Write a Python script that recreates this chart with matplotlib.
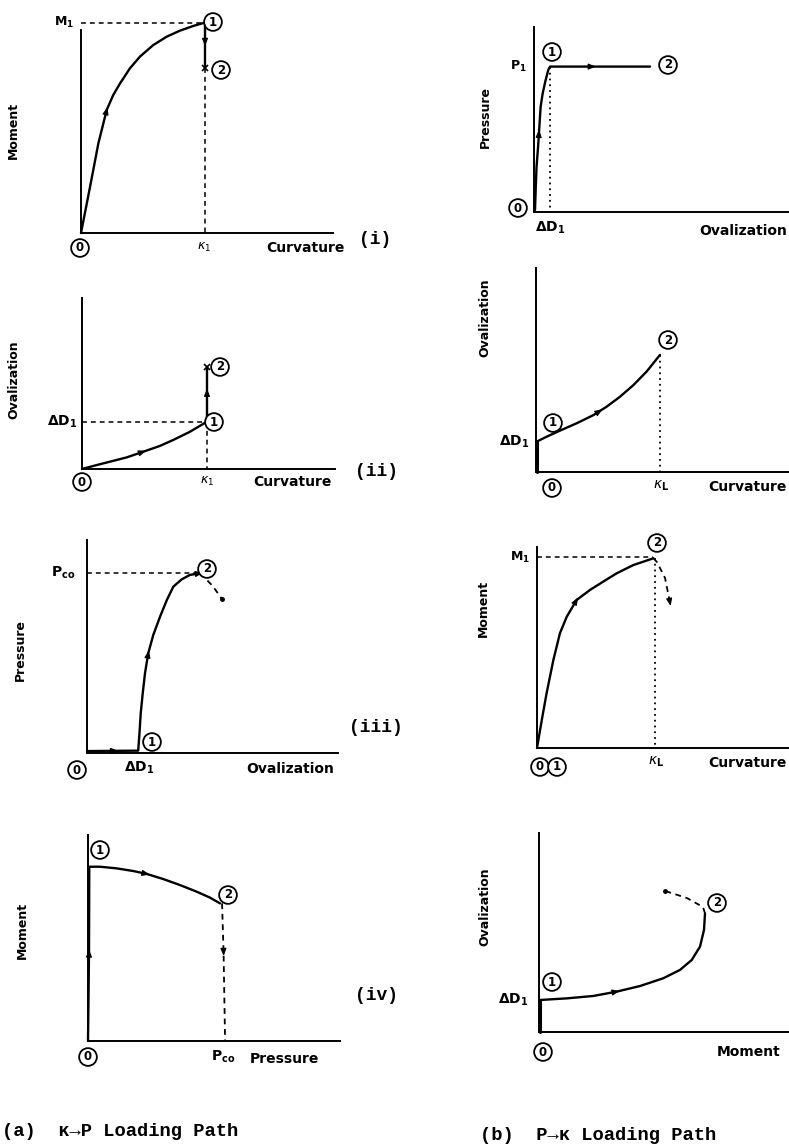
import numpy as np
import matplotlib
matplotlib.use("Agg")
import matplotlib.pyplot as plt

plt.rcParams['font.family'] = ['DejaVu Sans']
plt.rcParams['mathtext.fontset'] = 'dejavusans'

W, H = 789, 1146
fig = plt.figure(figsize=(W / 100, H / 100), dpi=100)

# ---------------- data (normalised to each panel's axis lengths) ----------------
# (a)(i) moment vs curvature
ai_curv = [0.0, 0.036, 0.069, 0.102, 0.128, 0.155, 0.194, 0.234, 0.287, 0.340, 0.393, 0.446, 0.490]
ai_mom = [0.0, 0.228, 0.442, 0.606, 0.680, 0.737, 0.811, 0.869, 0.926, 0.967, 0.997, 1.020, 1.036]
ai_drop_mom = [1.036, 0.813]          # moment relaxation 1 -> 2 at constant curvature
ai_k1 = 0.492

# (a)(ii) ovalization vs curvature
aii_curv = [0.0, 0.058, 0.111, 0.177, 0.242, 0.308, 0.361, 0.427, 0.494]
aii_oval = [0.0, 0.023, 0.043, 0.068, 0.101, 0.135, 0.170, 0.218, 0.277]
aii_rise_oval = [0.277, 0.596]
aii_k1 = 0.494

# (a)(iii) pressure vs ovalization
aiii_oval = [0.0, 0.204, 0.209, 0.214, 0.222, 0.231, 0.244, 0.264, 0.291, 0.318, 0.344, 0.377, 0.410, 0.450]
aiii_pres = [0.009, 0.011, 0.092, 0.186, 0.280, 0.374, 0.468, 0.554, 0.640, 0.718, 0.781, 0.815, 0.836, 0.844]
aiii_post_oval = [0.450, 0.466, 0.50, 0.538]
aiii_post_pres = [0.844, 0.826, 0.785, 0.723]
aiii_pco = 0.845

# (a)(iv) moment vs pressure
aiv_pres = [0.0, 0.004, 0.005, 0.048, 0.114, 0.180, 0.233, 0.299, 0.365, 0.431, 0.484, 0.524]
aiv_mom = [0.0, 0.43, 0.846, 0.846, 0.838, 0.825, 0.811, 0.786, 0.757, 0.725, 0.696, 0.668]
aiv_post_pres = [0.532, 0.538, 0.544]
aiv_post_mom = [0.668, 0.427, 0.0]

# (b)(i) pressure vs ovalization
bi_oval = [0.004, 0.007, 0.010, 0.016, 0.021, 0.026, 0.034, 0.044, 0.056, 0.063, 0.231, 0.455]
bi_pres = [0.011, 0.137, 0.245, 0.353, 0.461, 0.569, 0.641, 0.704, 0.768, 0.786, 0.786, 0.786]
bi_d1 = 0.063

# (b)(ii) ovalization vs curvature
bii_pre_oval = [0.0, 0.07, 0.149]
bii_curv = [0.003, 0.042, 0.095, 0.161, 0.227, 0.279, 0.332, 0.385, 0.437, 0.490]
bii_oval = [0.149, 0.173, 0.203, 0.239, 0.279, 0.320, 0.369, 0.426, 0.492, 0.574]
bii_kL = 0.490

# (b)(iii) moment vs curvature
biii_curv = [0.0, 0.019, 0.038, 0.065, 0.091, 0.118, 0.157, 0.210, 0.263, 0.316, 0.382, 0.462]
biii_mom = [0.0, 0.139, 0.272, 0.438, 0.571, 0.653, 0.736, 0.786, 0.828, 0.869, 0.910, 0.944]
biii_post_curv = [0.462, 0.476, 0.508, 0.528]
biii_post_mom = [0.944, 0.925, 0.846, 0.721]
biii_kL = 0.468
biii_M1 = 0.950

# (b)(iv) ovalization vs moment
biv_pre_oval = [0.0, 0.08, 0.161]
biv_mom = [0.006, 0.111, 0.217, 0.311, 0.404, 0.497, 0.564, 0.611, 0.644, 0.660, 0.664]
biv_oval = [0.161, 0.169, 0.181, 0.203, 0.231, 0.270, 0.312, 0.362, 0.429, 0.513, 0.596]
biv_post_mom = [0.664, 0.656, 0.592, 0.504]
biv_post_oval = [0.596, 0.628, 0.673, 0.709]

# ---------------- helpers ----------------
LW = 1.7
DASH = (0, (3.2, 2.6))
DOT = (0, (1.0, 2.2))


def panel(x0, y0, x1, ytop):
    ax = fig.add_axes([x0 / W, 1 - y0 / H, (x1 - x0) / W, (y0 - ytop) / H])
    ax.set_xlim(0, 1)
    ax.set_ylim(0, 1)
    for s in ('top', 'right'):
        ax.spines[s].set_visible(False)
    for s in ('left', 'bottom'):
        ax.spines[s].set_linewidth(1.4)
    ax.set_xticks([])
    ax.set_yticks([])
    ax.patch.set_alpha(0)
    return ax


def line(ax, xs, ys, **kw):
    opts = dict(color='black', lw=LW, solid_capstyle='round', clip_on=False)
    opts.update(kw)
    ax.plot(xs, ys, **opts)


def mid_arrow(ax, xs, ys, i, t=0.5, size=6):
    p0 = ax.transData.transform((xs[i], ys[i]))
    p1 = ax.transData.transform((xs[i + 1], ys[i + 1]))
    d = p1 - p0
    d = d / np.hypot(*d)
    p = p0 + t * (p1 - p0)
    inv = ax.transData.inverted()
    tail = inv.transform(p - d * size / 2)
    head = inv.transform(p + d * size / 2)
    ax.annotate('', xy=head, xytext=tail, annotation_clip=False,
                arrowprops=dict(arrowstyle='-|>,head_length=0.5,head_width=0.2',
                                color='black', lw=0.8, shrinkA=0, shrinkB=0,
                                mutation_scale=9))


def ftext(px, py, s, size=10, **kw):
    opts = dict(ha='center', va='center', fontsize=size, fontweight='bold')
    opts.update(kw)
    fig.text(px / W, 1 - py / H, s, **opts)


def ylab(px, py, s):
    ftext(px, py, s, size=9, rotation=90)


def circled(px, py, s):
    fig.text(px / W, 1 - py / H, s, ha='center', va='center', fontsize=8.5,
             fontweight='bold',
             bbox=dict(boxstyle='circle,pad=0.2', fc='white', ec='black', lw=1.3))


def roman(px, py, s):
    ftext(px, py, s, size=13, family='Liberation Mono')


# ---------------- (a)(i) ----------------
ax = panel(81, 233, 333, 30)
line(ax, ai_curv, ai_mom)
mid_arrow(ax, ai_curv, ai_mom, 2, 1.0)
line(ax, [ai_k1, ai_k1], ai_drop_mom)
mid_arrow(ax, [ai_k1, ai_k1], ai_drop_mom, 0, 0.45)
line(ax, [0, ai_curv[-1]], [ai_mom[-1]] * 2, lw=1.1, ls=DASH)
line(ax, [ai_k1, ai_k1], [ai_drop_mom[1], 0], lw=1.1, ls=DASH)
ax.plot([ai_k1], [ai_drop_mom[1]], marker='x', ms=4, mew=1.2, color='black', clip_on=False)
ftext(64, 22, r'$\mathbf{M_1}$', size=9)
ftext(204, 247, r'$\kappa_1$', size=9)
ftext(305, 248, 'Curvature')
roman(375, 240, '(i)')
ylab(13, 130, 'Moment')
circled(80, 248, '0')
circled(213, 22, '1')
circled(221, 70, '2')

# ---------------- (a)(ii) ----------------
ax = panel(82, 469, 335, 298)
line(ax, aii_curv, aii_oval)
mid_arrow(ax, aii_curv, aii_oval, 3, 1.0)
line(ax, [aii_k1, aii_k1], aii_rise_oval)
mid_arrow(ax, [aii_k1, aii_k1], aii_rise_oval, 0, 0.55)
line(ax, [0, aii_k1], [aii_oval[-1]] * 2, lw=1.1, ls=DASH)
line(ax, [aii_k1, aii_k1], [aii_oval[-1], 0], lw=1.1, ls=DASH)
ax.plot([aii_k1], [aii_rise_oval[1]], marker='x', ms=4, mew=1.2, color='black', clip_on=False)
ftext(62, 422, r'$\mathbf{\Delta D_1}$', size=10)
ftext(207, 481, r'$\kappa_1$', size=9)
ftext(292, 482, 'Curvature')
roman(376, 471, '(ii)')
ylab(14, 380, 'Ovalization')
circled(82, 482, '0')
circled(214, 422, '1')
circled(220, 367, '2')

# ---------------- (a)(iii) ----------------
ax = panel(87, 753, 338, 540)
line(ax, aiii_oval, aiii_pres)
mid_arrow(ax, aiii_oval, aiii_pres, 0, 0.55)
mid_arrow(ax, aiii_oval, aiii_pres, 5, 1.0)
mid_arrow(ax, aiii_oval, aiii_pres, 12, 1.0)
line(ax, aiii_post_oval, aiii_post_pres, lw=1.3, ls=DASH)
ax.plot(aiii_post_oval[-1:], aiii_post_pres[-1:], 'o', ms=2.5, color='black', clip_on=False)
line(ax, [0, aiii_oval[-1] - 0.01], [aiii_pco] * 2, lw=1.1, ls=DASH)
ftext(63, 573, r'$\mathbf{P_{co}}$', size=10)
ftext(139, 768, r'$\mathbf{\Delta D_1}$', size=10)
ftext(290, 769, 'Ovalization')
roman(376, 728, '(iii)')
ylab(20, 650, 'Pressure')
circled(77, 770, '0')
circled(152, 742, '1')
circled(207, 569, '2')

# ---------------- (a)(iv) ----------------
ax = panel(88, 1041, 340, 835)
line(ax, aiv_pres, aiv_mom)
mid_arrow(ax, aiv_pres, aiv_mom, 0, 1.0)
mid_arrow(ax, aiv_pres, aiv_mom, 5, 1.0)
line(ax, aiv_post_pres, aiv_post_mom, lw=1.3, ls=DASH)
mid_arrow(ax, aiv_post_pres, aiv_post_mom, 0, 1.0)
ftext(223, 1057, r'$\mathbf{P_{co}}$', size=10)
ftext(284, 1059, 'Pressure')
roman(376, 996, '(iv)')
ylab(22, 930, 'Moment')
circled(88, 1057, '0')
circled(100, 850, '1')
circled(228, 895, '2')

ftext(2, 1131, '(a)  \u03ba\u2192P Loading Path', size=13.5, ha='left',
      family='Liberation Mono')

# ---------------- (b)(i) ----------------
ax = panel(534, 212, 789, 27)
line(ax, bi_oval, bi_pres)
mid_arrow(ax, bi_oval, bi_pres, 3, 0.7)
mid_arrow(ax, bi_oval, bi_pres, 9, 1.0)
line(ax, [bi_d1, bi_d1], [bi_pres[9], 0], lw=1.3, ls=DOT)
ftext(518, 66, r'$\mathbf{P_1}$', size=9)
ftext(550, 228, r'$\mathbf{\Delta D_1}$', size=10)
ftext(787, 231, 'Ovalization', ha='right')
ylab(485, 117, 'Pressure')
circled(518, 208, '0')
circled(552, 52, '1')
circled(668, 65, '2')

# ---------------- (b)(ii) ----------------
ax = panel(536, 472, 789, 268)
line(ax, [0.003] * 3, bii_pre_oval, lw=2.2)
line(ax, bii_curv, bii_oval)
mid_arrow(ax, bii_curv, bii_oval, 4, 0.5)
line(ax, [bii_kL, bii_kL], [bii_oval[-1], 0], lw=1.3, ls=DOT)
ftext(514, 442, r'$\mathbf{\Delta D_1}$', size=10)
ftext(661, 486, r'$\kappa_\mathbf{L}$', size=10)
ftext(787, 487, 'Curvature', ha='right')
ylab(485, 318, 'Ovalization')
circled(552, 488, '0')
circled(553, 423, '1')
circled(668, 340, '2')

# ---------------- (b)(iii) ----------------
ax = panel(537, 748, 789, 547)
line(ax, biii_curv, biii_mom)
mid_arrow(ax, biii_curv, biii_mom, 5, 1.0)
line(ax, biii_post_curv, biii_post_mom, lw=1.3, ls=DASH)
mid_arrow(ax, biii_post_curv, biii_post_mom, 2, 1.0, size=6)
line(ax, [0, biii_curv[-1]], [biii_M1] * 2, lw=1.1, ls=DASH)
line(ax, [biii_kL, biii_kL], [biii_mom[-1], 0], lw=1.3, ls=DOT)
ftext(520, 557, r'$\mathbf{M_1}$', size=9)
ftext(656, 762, r'$\kappa_\mathbf{L}$', size=10)
ftext(787, 763, 'Curvature', ha='right')
ylab(483, 608, 'Moment')
circled(540, 767, '0')
circled(557, 767, '1')
circled(657, 543, '2')

# ---------------- (b)(iv) ----------------
ax = panel(539, 1032, 789, 833)
line(ax, [0.004] * 3, biv_pre_oval, lw=2.2)
line(ax, biv_mom, biv_oval)
mid_arrow(ax, biv_mom, biv_oval, 2, 1.0)
line(ax, biv_post_mom, biv_post_oval, lw=1.3, ls=DASH)
ax.plot(biv_post_mom[-1:], biv_post_oval[-1:], 'o', ms=2.5, color='black', clip_on=False)
ftext(513, 1000, r'$\mathbf{\Delta D_1}$', size=10)
ftext(749, 1052, 'Moment')
ylab(485, 907, 'Ovalization')
circled(543, 1052, '0')
circled(552, 982, '1')
circled(717, 903, '2')

ftext(480, 1135, '(b)  P\u2192\u03ba Loading Path', size=13.5, ha='left',
      family='Liberation Mono')

fig.savefig('out.png', dpi=100, facecolor='white')
